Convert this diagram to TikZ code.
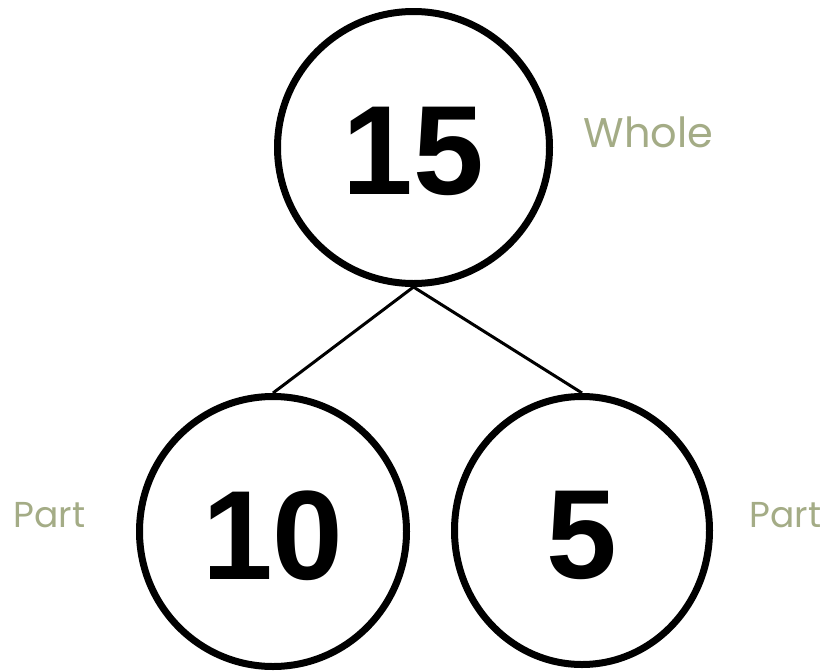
\documentclass[tikz,border=0pt]{standalone}
\usepackage{fontspec}
\setmainfont{Liberation Sans}
\newfontfamily\labelfont{Poppins}
\usetikzlibrary{shapes.geometric}
\definecolor{lab}{RGB}{164,172,134}
\begin{document}
\begin{tikzpicture}[x=1pt,y=-1pt,
  num/.style={draw, line width=7pt, ellipse, inner sep=0pt,
    font=\fontsize{127}{127}\bfseries\selectfont},
  lbl/.style={text=lab, inner sep=0pt, anchor=base},
  link/.style={line width=3pt}]
\useasboundingbox (0,0) rectangle (825,672);
\node[num, minimum width=272, minimum height=272] (whole) at (413.5,147.5) {\raisebox{-3pt}[\height][0pt]{15}};
\node[num, minimum width=267, minimum height=270] (left) at (273,531.5) {\raisebox{-4pt}[\height][0pt]{10}};
\node[num, minimum width=255, minimum height=268] (right) at (582,530.5) {\raisebox{-4.5pt}[\height][0pt]{5}};
\draw[link] (whole.south) -- (left.north);
\draw[link] (whole.south) -- (right.north);
\node[lbl, font=\labelfont\fontsize{41.5}{41.5}\selectfont] (wl) at (648.5,147) {Whole};
\node[lbl, font=\labelfont\fontsize{36}{36}\selectfont] (pl) at (49.5,527) {Part};
\node[lbl, font=\labelfont\fontsize{36}{36}\selectfont] (pr) at (785.5,527) {Part};
\end{tikzpicture}
\end{document}
